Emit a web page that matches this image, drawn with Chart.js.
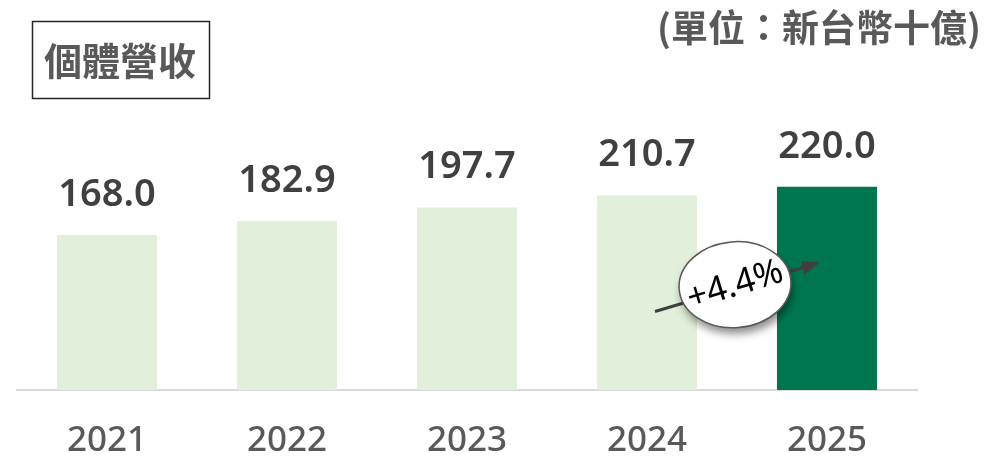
<!DOCTYPE html>
<html><head><meta charset="utf-8">
<script src="https://cdn.jsdelivr.net/npm/chart.js@4.4.0/dist/chart.umd.min.js"></script>
<style>html,body{margin:0;padding:0;background:#fff;}#wrap{width:1007px;height:459px;position:relative;}</style>
</head><body><div id="wrap"><canvas id="c" width="1007" height="459"></canvas></div>
<script>
const categories = ['2021','2022','2023','2024','2025'];
const revenue = [168.0, 182.9, 197.7, 210.7, 220.0];
const valueLabels = ['168.0','182.9','197.7','210.7','220.0'];
const barColors = ['#e2efda','#e2efda','#e2efda','#e2efda','#007650'];
const titleText = '個體營收';
const unitText = '(單位：新台幣十億)';
const growthText = '+4.4%';

const overlay = {
  id: 'overlay',
  afterDatasetsDraw(chart) {
    const ctx = chart.ctx;
    const meta = chart.getDatasetMeta(0);
    ctx.save();
    ctx.fillStyle = '#404040';
    ctx.font = '600 38px "Noto Sans", sans-serif';
    ctx.textAlign = 'center';
    ctx.textBaseline = 'alphabetic';
    meta.data.forEach((bar, i) => {
      ctx.fillText(valueLabels[i], bar.x, bar.y - 29);
    });
    ctx.restore();

    const xs = chart.scales.x, ys = chart.scales.y;
    const x0 = xs.getPixelForValue(3) + 8, y0 = ys.getPixelForValue(85);
    const x1 = xs.getPixelForValue(4) - 7, y1 = ys.getPixelForValue(138);
    ctx.save();
    ctx.strokeStyle = '#404040'; ctx.fillStyle = '#404040'; ctx.lineWidth = 3;
    const ang = Math.atan2(y1 - y0, x1 - x0);
    ctx.beginPath(); ctx.moveTo(x0, y0);
    ctx.lineTo(x1 - 14*Math.cos(ang), y1 - 14*Math.sin(ang)); ctx.stroke();
    ctx.beginPath();
    ctx.moveTo(x1, y1);
    ctx.lineTo(x1 - 18*Math.cos(ang) + 7*Math.sin(ang), y1 - 18*Math.sin(ang) - 7*Math.cos(ang));
    ctx.lineTo(x1 - 18*Math.cos(ang) - 7*Math.sin(ang), y1 - 18*Math.sin(ang) + 7*Math.cos(ang));
    ctx.closePath(); ctx.fill();
    ctx.restore();

    const cx = (xs.getPixelForValue(3) + xs.getPixelForValue(4)) / 2 - 2;
    const cy = ys.getPixelForValue(114);
    ctx.save();
    ctx.shadowColor = 'rgba(0,0,0,0.45)';
    ctx.shadowBlur = 8; ctx.shadowOffsetX = 2; ctx.shadowOffsetY = 6;
    ctx.beginPath();
    ctx.ellipse(cx, cy, 56, 43, -0.08, 0, Math.PI*2);
    ctx.fillStyle = '#ffffff'; ctx.fill();
    ctx.restore();
    ctx.save();
    ctx.beginPath();
    ctx.ellipse(cx, cy, 56, 43, -0.08, 0, Math.PI*2);
    ctx.strokeStyle = '#595959'; ctx.lineWidth = 1.5; ctx.stroke();
    ctx.translate(cx, cy);
    ctx.rotate(-0.3);
    ctx.fillStyle = '#000';
    ctx.font = '35px "Noto Sans", sans-serif';
    ctx.textAlign = 'center'; ctx.textBaseline = 'middle';
    ctx.fillText(growthText, 0, 1);
    ctx.restore();
  },
  afterDraw(chart) {
    const ctx = chart.ctx;
    ctx.save();
    ctx.strokeStyle = '#262626'; ctx.lineWidth = 1.5;
    ctx.strokeRect(32.5, 21.5, 177, 77);
    ctx.fillStyle = '#595959';
    ctx.font = 'bold 38px "Noto Sans CJK TC", sans-serif';
    ctx.textAlign = 'center'; ctx.textBaseline = 'middle';
    ctx.fillText(titleText, 120, 61);
    ctx.font = 'bold 37px "Noto Sans CJK TC", sans-serif';
    ctx.textAlign = 'right'; ctx.textBaseline = 'middle';
    ctx.fillText(unitText, 981, 28);
    ctx.restore();
  }
};

new Chart(document.getElementById('c'), {
  type: 'bar',
  data: { labels: categories, datasets: [{ data: revenue, backgroundColor: barColors, barPercentage: 0.556, categoryPercentage: 1.0 }] },
  options: {
    responsive: false, animation: false,
    layout: { padding: { left: 17, right: 90, top: 113, bottom: 0 } },
    plugins: { legend: { display: false }, tooltip: { enabled: false } },
    scales: {
      x: {
        afterFit(scale) { scale.height = 69; },
        grid: { display: false, drawTicks: false },
        border: { display: true, color: '#d9d9d9', width: 2 },
        ticks: { color: '#595959', padding: 33.5, font: { family: '"Noto Sans", sans-serif', size: 35, weight: '500', lineHeight: 1 } }
      },
      y: { display: false, min: 0, max: 300 }
    }
  },
  plugins: [overlay]
});
</script></body></html>
